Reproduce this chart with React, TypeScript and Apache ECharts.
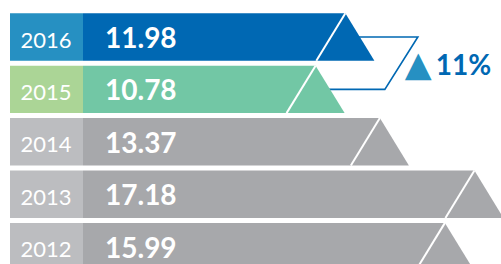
import React, { useEffect, useRef } from "react";
import * as echarts from "echarts";

const years = ["2016", "2015", "2014", "2013", "2012"];
const values = [11.98, 10.78, 13.37, 17.18, 15.99];
const labelColors = ["#2690c2", "#abd596", "#bcbdc0", "#bcbdc0", "#bcbdc0"];
const barColors = ["#0068b3", "#72c7a5", "#a7a8ab", "#a7a8ab", "#a7a8ab"];
const changeText = "11%";
const annotationRightValue = 14.9;

export default function App() {
  const ref = useRef<HTMLDivElement>(null);
  useEffect(() => {
    if (!ref.current) return;
    const chart = echarts.init(ref.current, undefined, { renderer: "svg" });
    const font = "Lato, 'Open Sans', sans-serif";
    chart.setOption({
      animation: false,
      grid: { left: 48, right: 0, top: 10.8, height: 262 },
      xAxis: { type: "value", min: 0, max: 18.25, show: false },
      yAxis: { type: "category", data: years, inverse: true, show: false },
      series: [
        {
          type: "custom",
          z: 1,
          data: [[values[0], 0, values[1], 1]],
          encode: { x: 0, y: 1 },
          renderItem: (params: any, api: any) => {
            const p1 = api.coord([api.value(0), api.value(1)]);
            const p4 = api.coord([api.value(2), api.value(3)]);
            const p2 = api.coord([annotationRightValue, api.value(1)]);
            const dy = p4[1] - p1[1];
            const p3 = [p2[0] - dy * 0.63, p4[1]];
            return {
              type: "group",
              children: [
                {
                  type: "polyline",
                  shape: { points: [p1, p2, p3, p4] },
                  style: { stroke: "#0068b3", lineWidth: 1.6, fill: "none" },
                },
                {
                  type: "text",
                  x: p2[0] - 13,
                  y: (p1[1] + p4[1]) / 2 + 1,
                  style: {
                    text: "{a|▲}{b|" + changeText + "}",
                    verticalAlign: "middle",
                    align: "left",
                    rich: {
                      a: { fontSize: 35, fill: "#2690c2", fontFamily: "DejaVu Sans", padding: [0, 4, 0, 0] },
                      b: { fontSize: 28, fontWeight: "bold", fill: "#0068b3", fontFamily: font },
                    },
                  },
                },
              ],
            };
          },
        },
        {
          type: "custom",
          z: 2,
          data: values.map((v, i) => [v, i]),
          encode: { x: 0, y: 1 },
          renderItem: (params: any, api: any) => {
            const i = params.dataIndex;
            const v = api.value(0);
            const [ax, cy] = api.coord([v, api.value(1)]);
            const h = api.size([0, 1])[1] * 0.905;
            const top = cy - h / 2;
            const bottom = cy + h / 2;
            const tw = h * 0.612;
            return {
              type: "group",
              children: [
                {
                  type: "polygon",
                  shape: { points: [[83, top], [ax, top], [ax + tw, bottom], [83, bottom]] },
                  style: { fill: barColors[i] },
                },
                {
                  type: "rect",
                  shape: { x: 10, y: top, width: 73, height: h },
                  style: { fill: labelColors[i] },
                },
                {
                  type: "line",
                  shape: { x1: ax, y1: top, x2: ax - tw, y2: bottom },
                  style: { stroke: "#ffffff", lineWidth: 2 },
                },
                {
                  type: "text",
                  x: 46,
                  y: cy + 2,
                  style: {
                    text: years[i],
                    fill: "#ffffff",
                    fontSize: 22,
                    fontFamily: font,
                    align: "center",
                    verticalAlign: "middle",
                  },
                },
                {
                  type: "text",
                  x: 105,
                  y: cy,
                  style: {
                    text: v.toFixed(2),
                    fill: "#ffffff",
                    fontSize: 28,
                    fontWeight: "bold",
                    fontFamily: font,
                    align: "left",
                    verticalAlign: "middle",
                  },
                },
              ],
            };
          },
        },
      ],
    });
    return () => chart.dispose();
  }, []);
  return (
    <div style={{ position: "absolute", left: 0, top: 0, width: 501, height: 264, overflow: "hidden" }}>
      <div ref={ref} style={{ width: 501, height: 300 }} />
    </div>
  );
}
